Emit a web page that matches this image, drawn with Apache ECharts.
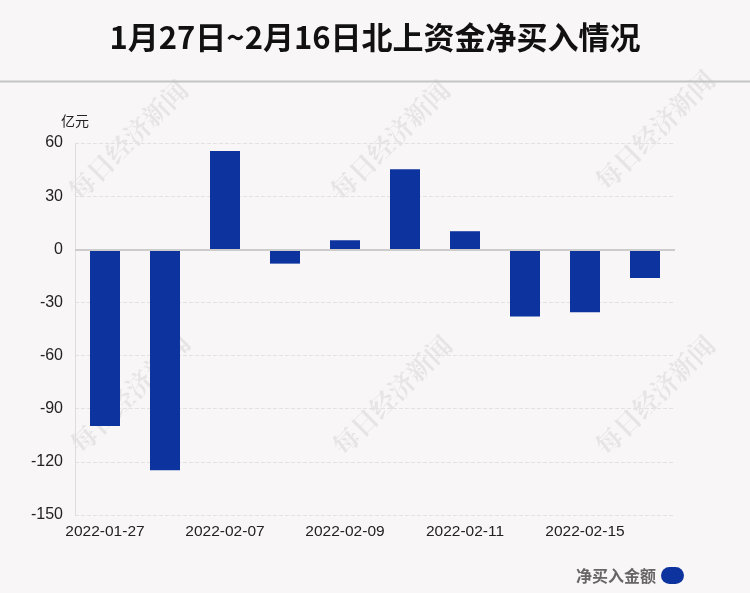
<!DOCTYPE html>
<html><head><meta charset="utf-8">
<script src="https://cdn.jsdelivr.net/npm/echarts@6/dist/echarts.min.js"></script>
<style>html,body{margin:0;padding:0;background:#f9f6f7;}#c{width:750px;height:593px;}</style>
</head><body><div id="c"></div>
<script>
const categories = ['2022-01-27','2022-01-28','2022-02-07','2022-02-08','2022-02-09','2022-02-10','2022-02-11','2022-02-14','2022-02-15','2022-02-16'];
const netBuy = [-99.8, -124.8, 55.5, -8.1, 5.1, 45.2, 10.2, -38.0, -35.6, -16.2];
const seriesName = '净买入金额';
const titleText = '1月27日~2月16日北上资金净买入情况';
const unitName = '亿元';
const watermark = '每日经济新闻';

const chart = echarts.init(document.getElementById('c'));
const wmPos = [[128,140],[390,140],[655,130],[130,393],[392,395],[655,395]];
const graphics = [
  {type:'line', shape:{x1:0,y1:81.5,x2:750,y2:81.5}, style:{stroke:'#c4c4c4',lineWidth:2}, z:10}
];
wmPos.forEach(p=>graphics.push({type:'text', x:p[0], y:p[1], rotation:Math.PI/4, z:0,
  style:{text:watermark, fill:'rgba(0,0,0,0.07)', font:'bold 26px "Noto Serif CJK SC","Noto Sans CJK SC"', align:'center', verticalAlign:'middle'}}));
chart.setOption({
  backgroundColor:'#f9f6f7',
  title:{text:titleText, left:'center', top:17, textStyle:{fontFamily:'"Noto Sans CJK SC"', fontWeight:'bold', fontSize:31, color:'#111'}},
  graphic:graphics,
  legend:{right:61, bottom:4, itemWidth:23, itemHeight:17, itemGap:5, align:'right', icon:'path://M8.5,0 L14.5,0 A8.5,8.5 0 0 1 14.5,17 L8.5,17 A8.5,8.5 0 0 1 8.5,0 Z',
    textStyle:{color:'#666', fontSize:16, fontWeight:'bold', fontFamily:'"Noto Sans CJK SC"'}, data:[seriesName]},
  grid:{left:75, right:75, top:143, bottom:78},
  xAxis:{type:'category', data:categories,
    axisLine:{show:false, onZero:false}, axisTick:{show:false},
    axisLabel:{interval:1, color:'#222', fontSize:15.5, fontFamily:'"Liberation Sans"', margin:9}},
  yAxis:{type:'value', min:-150, max:60, interval:30, name:unitName,
    nameTextStyle:{color:'#222', fontSize:14, fontFamily:'"Noto Sans CJK SC"'}, nameGap:15,
    axisLine:{show:true, lineStyle:{color:'#dddddd', width:1}},
    axisLabel:{color:'#222', fontSize:16, fontFamily:'"Liberation Sans"', margin:12},
    splitLine:{lineStyle:{type:'dashed', color:'#e4e1e2'}}},
  series:[{name:seriesName, type:'bar', data:netBuy, barWidth:30, itemStyle:{color:'#0d349e'},
    markLine:{silent:true, symbol:'none', label:{show:false}, lineStyle:{color:'#cccccc', width:2, type:'solid'},
      data:[{yAxis:0}]}}]
});
</script></body></html>
